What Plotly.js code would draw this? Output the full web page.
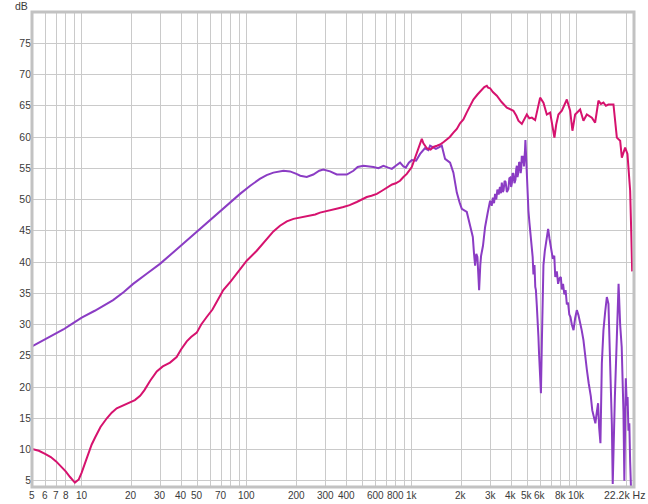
<!DOCTYPE html>
<html>
<head>
<meta charset="utf-8">
<script src="https://cdn.plot.ly/plotly-3.0.1.min.js"></script>
<style>html,body{margin:0;padding:0;background:#fff;}#chart{width:648px;height:504px;}</style>
</head>
<body>
<div id="chart"></div>
<script>
// Magenta response
const freqA = [5,5.5,6,6.5,7,7.5,8,8.5,9.1,9.6,10,10.7,11.5,12.1,13,14.2,15.2,16.3,18,19.6,21,22.6,24,26,28.5,31,34.3,37.6,40,43.3,46,49.8,53,57.2,62,67,72.1,80,87,100,115,132,145,159,175,192,215,242,260,278,300,335,360,385,420,464,500,534,570,614,660,706,760,800,849,890,933,1000,1062,1123,1150,1176,1233,1300,1352,1420,1484,1560,1630,1700,1787,1874,1960,2055,2150,2250,2362,2500,2656,2750,2848,2900,2982,3100,3275,3500,3766,3950,4128,4300,4427,4642,4800,4977,5150,5337,5589,5800,5993,6276,6579,6891,7100,7316,7500,7735,8111,8400,8698,9108,9404,9765,10471,10965,11497,12328,12910,13518,14000,14497,15000,15544,16669,17475,18299,18738,19618,20260,21038,21400,21638];
const splA = [10.1,9.8,9.3,8.8,8.1,7.3,6.5,5.6,4.7,5.2,6.3,8.5,10.8,12.0,13.6,15.0,15.9,16.6,17.1,17.5,17.9,18.6,19.5,21.0,22.5,23.3,23.9,24.8,26.0,27.3,28.0,28.7,30.0,31.2,32.4,34.0,35.5,36.9,38.1,40.2,41.8,43.7,44.9,45.8,46.5,46.9,47.2,47.4,47.6,47.9,48.1,48.3,48.6,48.8,49.1,49.6,50.1,50.4,50.6,50.9,51.4,51.9,52.4,52.6,53.0,53.6,54.1,55.2,57.0,59.0,59.7,59.0,58.2,58.0,58.4,58.6,58.8,59.2,59.6,60.0,60.7,61.3,62.2,62.8,63.9,65.0,66.0,66.8,67.6,68.0,68.2,67.9,67.8,67.2,66.6,65.6,64.7,64.5,64.2,63.4,62.6,62.1,62.9,63.6,63.0,63.1,62.7,64.5,66.3,65.5,63.6,63.9,62.0,59.9,62.0,63.6,64.2,65.0,66.0,64.2,61.0,63.6,64.4,62.6,63.6,63.1,62.3,65.8,65.3,65.5,65.0,65.2,65.2,59.9,59.4,56.7,58.3,57.3,51.4,44.0,38.5];

// Purple response
const freqB = [5,6,7,7.74,8.5,10,12,13.5,15.5,18,20.5,25,29.8,36.8,44,52.1,60,68.9,80,91.1,105,120,132,145,167,183,200,211,231,253,275,291,320,351,380,404,443,470,509,550,585,628,673,720,757,800,849,890,920,960,1000,1062,1123,1200,1260,1291,1352,1400,1450,1520,1591,1650,1706,1787,1874,1950,2009,2154,2256,2343,2380,2419,2460,2498,2530,2558,2600,2630,2700,2781,2880,2982,3050,3100,3150,3197,3250,3300,3360,3420,3470,3511,3560,3600,3650,3700,3770,3849,3900,3950,4000,4040,4080,4128,4190,4250,4290,4330,4370,4420,4470,4533,4570,4600,4640,4680,4710,4747,4780,4820,4850,4880,4929,4975,5019,5090,5161,5250,5337,5400,5458,5540,5600,5650,5722,5790,5852,5900,5950,5993,6060,6137,6200,6276,6400,6579,6700,6824,6950,7154,7300,7400,7565,7700,7850,8000,8111,8250,8400,8550,8698,8850,9000,9150,9326,9550,9765,10000,10226,10500,10700,10965,11200,11497,11800,12155,12400,12731,12950,13219,13450,13651,13900,14174,14497,14845,15200,15544,15917,16300,16500,16669,17000,17475,17900,18299,18700,19162,19400,19618,19800,20091,20300,20544,20800,21038,21400,21638];
const splB = [26.5,27.6,28.6,29.2,29.9,31.1,32.2,33.0,33.9,35.2,36.5,38.2,39.7,41.8,43.6,45.3,46.8,48.2,49.6,50.9,52.2,53.3,53.9,54.3,54.6,54.5,54.1,53.8,53.6,54.0,54.6,54.8,54.5,54.0,54.0,54.0,54.6,55.2,55.4,55.3,55.2,55.0,55.4,55.1,54.9,55.4,55.9,55.3,55.1,55.9,56.3,56.2,57.3,58.2,57.9,58.6,58.3,58.1,58.3,58.6,56.5,56.2,55.9,54.3,51.1,49.5,48.5,48.0,45.6,44.0,41.5,39.4,41.3,40.8,38.0,35.5,39.5,41.0,42.6,45.6,47.8,49.8,49.0,50.3,49.4,50.9,50.0,51.6,50.8,52.0,51.0,52.7,51.2,51.5,53.0,52.8,51.2,51.7,53.4,53.5,52.0,52.6,54.2,54.1,52.6,53.2,54.8,55.4,53.6,54.3,56.0,55.7,54.2,54.8,57.0,55.8,57.0,56.7,55.3,56.2,57.8,59.5,56.0,54.1,50.5,48.2,46.3,44.5,43.0,40.8,38.0,39.5,36.0,35.5,33.0,31.2,28.0,25.5,23.8,21.0,19.0,27.0,35.5,39.5,41.8,44.0,45.3,43.8,42.4,40.5,41.0,37.6,38.5,36.5,37.4,37.6,35.6,36.5,34.8,35.5,33.2,33.5,31.6,31.2,30.0,29.1,31.0,32.3,31.5,30.2,29.1,27.5,24.9,22.8,20.6,18.5,16.3,15.0,14.2,16.0,17.4,13.5,11.0,23.8,29.1,32.0,34.4,33.3,23.8,14.0,4.5,10.0,18.4,28.0,36.5,30.0,26.4,16.0,5.0,14.0,21.4,17.0,18.4,13.0,14.2,8.0,2.0];

// Axis ticks
const xTickVals = [5,6,7,8,9,10,20,30,40,50,60,70,80,90,100,200,300,400,500,600,700,800,900,1000,2000,3000,4000,5000,6000,7000,8000,9000,10000,20000];
const xTickText = ['5','6','7','8','','10','20','30','40','50','','70','','','100','200','300','400','','600','','800','','1k','2k','3k','4k','5k','6k','','8k','','10k',''];
const yTickVals = [5,10,15,20,25,30,35,40,45,50,55,60,65,70,75];

const traces = [
  {x: freqB, y: splB, type: 'scatter', mode: 'lines', line: {color: '#8b3cc4', width: 2}, hoverinfo: 'skip'},
  {x: freqA, y: splA, type: 'scatter', mode: 'lines', line: {color: '#d6126e', width: 2}, hoverinfo: 'skip'}
];

const tickAnnotations = xTickVals
  .map((v, i) => ({v: v, t: xTickText[i]}))
  .filter(o => o.t !== '')
  .map(o => ({text: o.t, xref: 'x', yref: 'paper', x: Math.log10(o.v), y: -0.017,
              xanchor: 'center', yanchor: 'middle', showarrow: false,
              font: {size: 10, color: '#3a3a3a'}}));

const layout = {
  width: 648, height: 504,
  margin: {l: 32, r: 14, t: 12, b: 17},
  paper_bgcolor: '#ffffff', plot_bgcolor: '#ffffff',
  showlegend: false,
  font: {family: 'Liberation Sans, Arial, sans-serif', size: 10, color: '#3a3a3a'},
  xaxis: {
    type: 'log', range: [Math.log10(5), Math.log10(22200)],
    tickmode: 'array', tickvals: xTickVals, showticklabels: false,
    showgrid: true, gridcolor: '#cacaca', gridwidth: 1,
    ticks: '', zeroline: false, showline: false
  },
  yaxis: {
    range: [4, 80], tickmode: 'array', tickvals: yTickVals,
    showgrid: true, gridcolor: '#cacaca', gridwidth: 1,
    ticks: '', zeroline: false, showline: false,
    tickfont: {size: 10.5, color: '#3a3a3a'}
  },
  shapes: [
    {type: 'rect', xref: 'paper', yref: 'paper', x0: 0, x1: 1, y0: 0, y1: 1,
     line: {color: '#c2c2c2', width: 3}, fillcolor: 'rgba(0,0,0,0)', layer: 'above'}
  ],
  annotations: tickAnnotations.concat([
    {text: 'dB', xref: 'paper', yref: 'paper', x: -0.017, y: 1.012, xanchor: 'center', yanchor: 'middle', showarrow: false, font: {size: 10.5, color: '#3a3a3a'}},
    {text: '22.2k Hz', xref: 'paper', yref: 'paper', x: 1.022, y: -0.017, xanchor: 'right', yanchor: 'middle', showarrow: false, font: {size: 10.5, color: '#3a3a3a'}}
  ])
};

Plotly.newPlot('chart', traces, layout, {displayModeBar: false, staticPlot: true});
</script>
</body>
</html>
